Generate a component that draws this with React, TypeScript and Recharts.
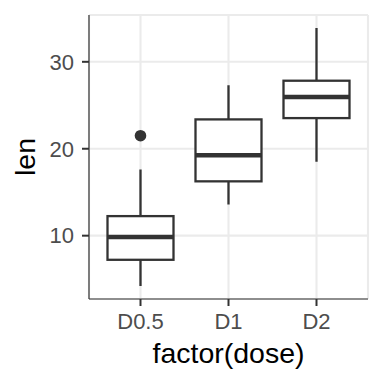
import React from "react";
import {
  ComposedChart,
  Bar,
  Scatter,
  XAxis,
  YAxis,
  CartesianGrid,
  Label,
} from "recharts";

if (typeof document !== "undefined") {
  document.body.style.margin = "0";
  document.body.style.background = "#ffffff";
}

const categories = ["D0.5", "D1", "D2"];
const whiskerLow = [4.2, 13.6, 18.5];
const q1 = [7.225, 16.25, 23.525];
const median = [9.85, 19.25, 25.95];
const q3 = [12.25, 23.375, 27.825];
const whiskerHigh = [17.6, 27.3, 33.9];
const outliers: (number | null)[] = [21.5, null, null];

const yMajorTicks = [10, 20, 30];
const yMinorTicks = [5, 15, 25, 35];
const yDomain: [number, number] = [2.715, 35.385];

const data = categories.map((name, i) => ({
  name,
  range: [whiskerLow[i], whiskerHigh[i]],
  low: whiskerLow[i],
  q1: q1[i],
  median: median[i],
  q3: q3[i],
  high: whiskerHigh[i],
  outlier: outliers[i],
}));

const INK = "#333333";
const FONT = "'Liberation Sans', Arial, Helvetica, sans-serif";

const BoxShape = (props: any) => {
  const { x, y, width, height, payload } = props;
  if (payload == null || height == null) return null;
  const span = payload.high - payload.low;
  const ppu = height / span;
  const yOf = (v: number) => y + (payload.high - v) * ppu;
  const cx = x + width / 2;
  const yQ3 = yOf(payload.q3);
  const yQ1 = yOf(payload.q1);
  const yMed = yOf(payload.median);
  return (
    <g>
      <line x1={cx} x2={cx} y1={yOf(payload.high)} y2={yQ3} stroke={INK} strokeWidth={2.3} />
      <line x1={cx} x2={cx} y1={yQ1} y2={yOf(payload.low)} stroke={INK} strokeWidth={2.3} />
      <rect x={x} y={yQ3} width={width} height={yQ1 - yQ3} fill="#ffffff" stroke={INK} strokeWidth={2.3} />
      <line x1={x} x2={x + width} y1={yMed} y2={yMed} stroke={INK} strokeWidth={4.5} />
    </g>
  );
};

const OutlierShape = (props: any) => {
  const { cx, cy, payload } = props;
  if (payload == null || payload.outlier == null || !isFinite(cy)) return null;
  return <circle cx={cx} cy={cy} r={5.8} fill={INK} />;
};

export default function App() {
  return (
    <div style={{ width: 384, height: 384, background: "#fff" }}>
      <ComposedChart
        width={384}
        height={384}
        data={data}
        margin={{ top: 15, right: 16, left: 0, bottom: 0 }}
        barCategoryGap="12.5%"
      >
        <CartesianGrid
          yAxisId="right"
          vertical={false}
          stroke="#EBEBEB"
          strokeWidth={1.1}
        />
        <CartesianGrid stroke="#EBEBEB" strokeWidth={2.1} />
        <XAxis
          dataKey="name"
          type="category"
          padding={{ left: 7.5, right: 7.5 }}
          height={85}
          tickSize={7}
          tickMargin={7.5}
          axisLine={{ stroke: INK, strokeWidth: 1.2 }}
          tickLine={{ stroke: INK, strokeWidth: 2 }}
          tick={{ fill: "#4D4D4D", fontSize: 22, fontFamily: FONT }}
        >
          <Label
            value="factor(dose)"
            position="insideBottom"
            offset={21}
            style={{ fontSize: 28.5, fill: "#000", fontFamily: FONT }}
          />
        </XAxis>
        <XAxis
          xAxisId="top"
          dataKey="name"
          orientation="top"
          height={0}
          tick={false}
          tickLine={false}
          axisLine={{ stroke: INK, strokeWidth: 1.2 }}
        />
        <YAxis
          type="number"
          domain={yDomain}
          ticks={yMajorTicks}
          allowDataOverflow
          width={89}
          tickSize={7}
          tickMargin={8}
          axisLine={{ stroke: INK, strokeWidth: 1.2 }}
          tickLine={{ stroke: INK, strokeWidth: 2 }}
          tick={{ fill: "#4D4D4D", fontSize: 22, fontFamily: FONT }}
        >
          <Label
            value="len"
            angle={-90}
            position="insideLeft"
            offset={25}
            style={{ fontSize: 28.5, fill: "#000", fontFamily: FONT, textAnchor: "middle" }}
          />
        </YAxis>
        <YAxis
          yAxisId="right"
          orientation="right"
          type="number"
          domain={yDomain}
          ticks={yMinorTicks}
          allowDataOverflow
          width={0}
          tick={false}
          tickLine={false}
          axisLine={{ stroke: INK, strokeWidth: 1.2 }}
        />
        <Bar dataKey="range" shape={BoxShape} isAnimationActive={false} />
        <Scatter dataKey="outlier" shape={OutlierShape} isAnimationActive={false} />
      </ComposedChart>
    </div>
  );
}
